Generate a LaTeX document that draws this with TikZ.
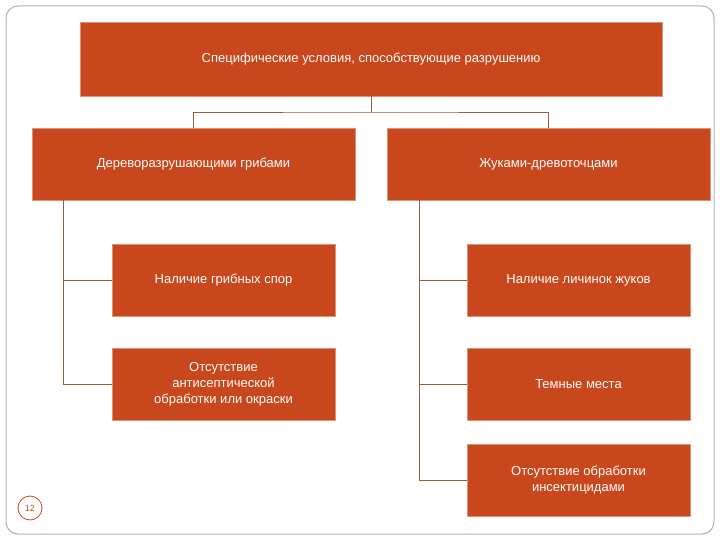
\documentclass[tikz,border=0pt]{standalone}
\usepackage{fontspec}
\setmainfont{Liberation Sans}
\definecolor{box}{HTML}{C8471C}
\definecolor{ln}{HTML}{9E5A3C}
\begin{document}
\begin{tikzpicture}[x=1pt,y=-1pt,
 bx/.style={fill=box,draw=box!60!white,line width=0.6pt,text=white,align=center,font=\fontsize{13}{16}\selectfont,inner sep=0pt},
 cn/.style={draw=ln,line width=0.6pt}]
\useasboundingbox (0,0) rectangle (720,540);
\draw[gray!60,line width=1pt,rounded corners=12pt] (6,6) rectangle (714,534);
\node[bx,minimum width=582pt,minimum height=74pt] (top) at (371,59) {Специфические условия, способствующие разрушению};
\node[bx,minimum width=323pt,minimum height=72pt] (l1) at (193.5,164) {Дереворазрушающими грибами};
\node[bx,minimum width=323pt,minimum height=72pt] (r1) at (548.5,164) {Жуками-древоточцами};
\node[bx,minimum width=223pt,minimum height=72pt] (l2a) at (223.5,280) {Наличие грибных спор};
\node[bx,minimum width=223pt,minimum height=72pt] (l2b) at (223.5,384) {Отсутствие\\антисептической\\обработки или окраски};
\node[bx,minimum width=223pt,minimum height=72pt] (r2a) at (578.5,280) {Наличие личинок жуков};
\node[bx,minimum width=223pt,minimum height=72pt] (r2b) at (578.5,384) {Темные места};
\node[bx,minimum width=223pt,minimum height=72pt] (r2c) at (578.5,480) {Отсутствие обработки\\инсектицидами};
\coordinate (m) at (371,112);
\draw[cn] (top.south) -- (m);
\draw[cn] (l1.north) |- (m) -| (r1.north);
\draw[cn] (63,200) |- (l2b.west);
\draw[cn] (63,280) -- (l2a.west);
\draw[cn] (419,200) |- (r2c.west);
\draw[cn] (419,280) -- (r2a.west);
\draw[cn] (419,384) -- (r2b.west);
\node[circle,draw=box,line width=0.8pt,minimum size=24pt,inner sep=0pt,text=box,font=\fontsize{9}{10}\selectfont] (pg) at (30,508) {12};
\end{tikzpicture}
\end{document}
